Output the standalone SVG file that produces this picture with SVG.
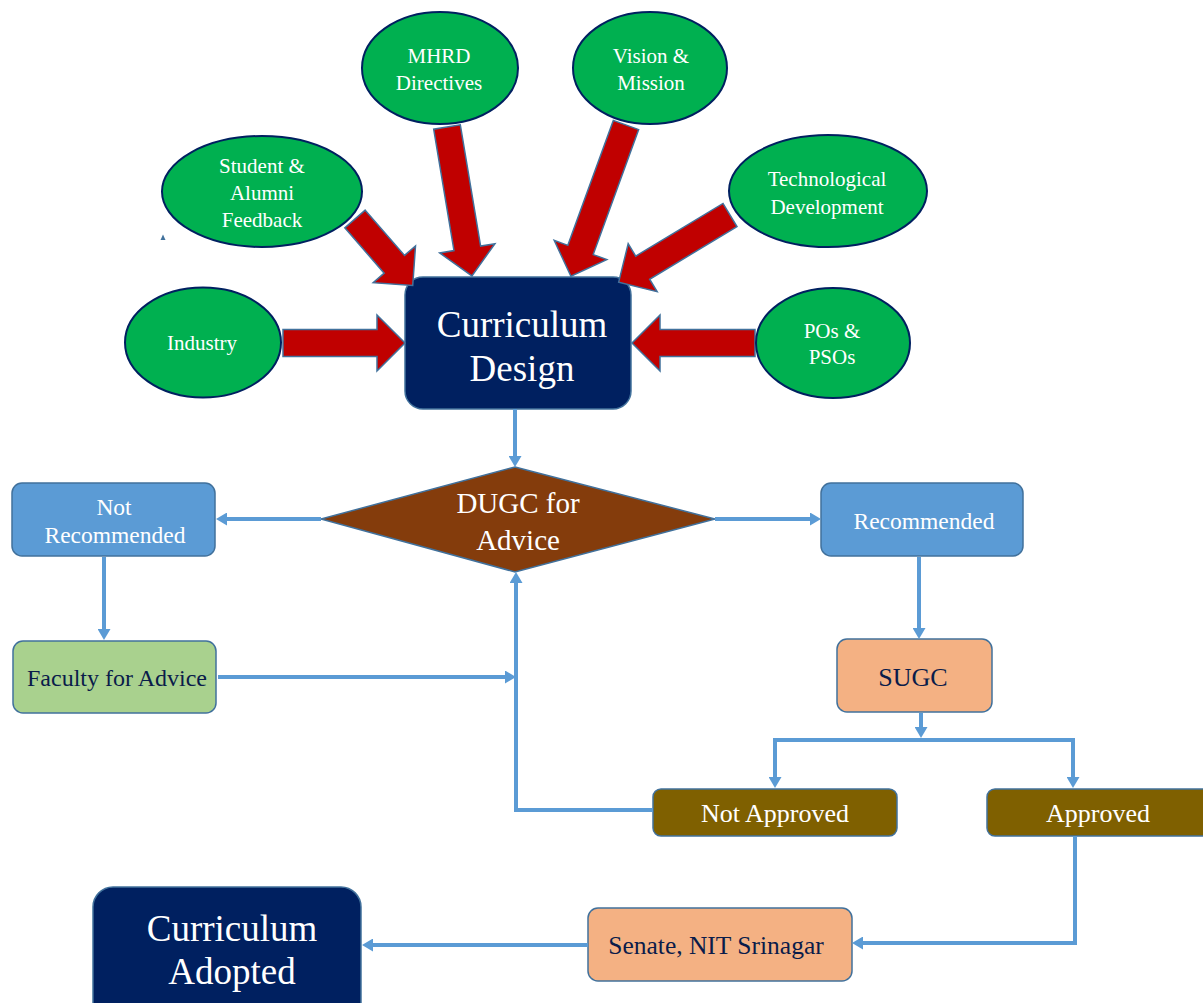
<svg xmlns="http://www.w3.org/2000/svg" width="1203" height="1003" viewBox="0 0 1203 1003">
  <style>
    .src { fill: #00B050; stroke: #002060; stroke-width: 2; }
    .src-t { fill: #FFFFFF; font-family: "Liberation Serif", "Times New Roman", serif; font-size: 21px; text-anchor: middle; }
    .feed { fill: #C00000; stroke: #41719C; stroke-width: 1.5; stroke-linejoin: miter; }
    .box { stroke: #41719C; stroke-width: 1.5; }
    .t { font-family: "Liberation Serif", "Times New Roman", serif; text-anchor: middle; }
    .w { fill: #FFFFFF; }
    .n { fill: #0A1C4A; }
    .link { fill: none; stroke: #5B9BD5; stroke-width: 4; stroke-linejoin: miter; }
  </style>
  <defs>
    <marker id="head" viewBox="0 0 11 13" refX="5" refY="6.5" markerWidth="11" markerHeight="13" markerUnits="userSpaceOnUse" orient="auto">
      <path d="M0,0 L11,6.5 L0,13 Z" fill="#5B9BD5"/>
    </marker>
  </defs>

  <rect width="1203" height="1003" fill="#FFFFFF"/>

  <!-- central design box -->
  <g id="curriculum-design">
    <rect class="box" x="405" y="277" width="226" height="132" rx="18" fill="#002060"/>
    <text class="t w" font-size="37" x="522" y="337">Curriculum</text>
    <text class="t w" font-size="37" x="522" y="381">Design</text>
  </g>

  <!-- block arrows feeding the design box -->
  <g id="inputs">
    <polygon class="feed" transform="translate(283,343)" points="0,-13.5 94,-13.5 94,-28 122,0 94,28 94,13.5 0,13.5"/>
    <polygon class="feed" transform="translate(755,343) rotate(180)" points="0,-13.5 95,-13.5 95,-28 123,0 95,28 95,13.5 0,13.5"/>
    <polygon class="feed" transform="translate(447,127) rotate(80.5)" points="0,-13.5 123,-13.5 123,-28 151,0 123,28 123,13.5 0,13.5"/>
    <polygon class="feed" transform="translate(626,125) rotate(110)" points="0,-13.5 133,-13.5 133,-28 161,0 133,28 133,13.5 0,13.5"/>
    <polygon class="feed" transform="translate(355,219) rotate(49)" points="0,-13.5 60,-13.5 60,-28 88,0 60,28 60,13.5 0,13.5"/>
    <polygon class="feed" transform="translate(730,215) rotate(148.9)" points="0,-13.5 102,-13.5 102,-28 130,0 102,28 102,13.5 0,13.5"/>
  </g>

  <!-- input sources -->
  <g id="mhrd">
    <ellipse class="src" cx="440" cy="68" rx="78" ry="56"/>
    <text class="src-t" x="439" y="63">MHRD</text>
    <text class="src-t" x="439" y="90">Directives</text>
  </g>
  <g id="vision">
    <ellipse class="src" cx="650" cy="68" rx="77" ry="56"/>
    <text class="src-t" x="651" y="63">Vision &amp;</text>
    <text class="src-t" x="651" y="90">Mission</text>
  </g>
  <g id="feedback">
    <ellipse class="src" cx="262" cy="191.5" rx="100" ry="55.5"/>
    <text class="src-t" x="262" y="173">Student &amp;</text>
    <text class="src-t" x="262" y="200">Alumni</text>
    <text class="src-t" x="262" y="227">Feedback</text>
  </g>
  <g id="technology">
    <ellipse class="src" cx="828" cy="191" rx="99" ry="56"/>
    <text class="src-t" x="827" y="186">Technological</text>
    <text class="src-t" x="827" y="214">Development</text>
  </g>
  <g id="industry">
    <ellipse class="src" cx="203" cy="342.5" rx="78" ry="55"/>
    <text class="src-t" x="202" y="350">Industry</text>
  </g>
  <g id="pos">
    <ellipse class="src" cx="833" cy="343" rx="77" ry="55"/>
    <text class="src-t" x="832" y="338">POs &amp;</text>
    <text class="src-t" x="832" y="364">PSOs</text>
  </g>
  <polygon points="160.5,240 163,234.5 165.5,240" fill="#41719C"/>

  <!-- review flow -->
  <g id="dugc">
    <polygon class="box" points="515,467 715,519 515,572 321,519" fill="#843C0C"/>
    <text class="t w" font-size="29" x="518" y="513">DUGC for</text>
    <text class="t w" font-size="29" x="518" y="550">Advice</text>
  </g>
  <g id="not-recommended">
    <rect class="box" x="12" y="483" width="203" height="73" rx="10" fill="#5B9BD5"/>
    <text class="t w" font-size="23.5" x="114" y="515">Not</text>
    <text class="t w" font-size="23.5" x="115" y="543">Recommended</text>
  </g>
  <g id="faculty">
    <rect class="box" x="13" y="641" width="203" height="72" rx="10" fill="#A9D18E"/>
    <text class="t n" font-size="24" x="117" y="686">Faculty for Advice</text>
  </g>
  <g id="recommended">
    <rect class="box" x="821" y="483" width="202" height="73" rx="10" fill="#5B9BD5"/>
    <text class="t w" font-size="23.5" x="924" y="529">Recommended</text>
  </g>
  <g id="sugc">
    <rect class="box" x="837" y="639" width="155" height="73" rx="10" fill="#F4B183"/>
    <text class="t n" font-size="26" x="913" y="686">SUGC</text>
  </g>
  <g id="not-approved">
    <rect class="box" x="653" y="789" width="244" height="47" rx="8" fill="#7F6000"/>
    <text class="t w" font-size="26" x="775" y="822">Not Approved</text>
  </g>
  <g id="approved">
    <rect class="box" x="987" y="789" width="240" height="47" rx="8" fill="#7F6000"/>
    <text class="t w" font-size="26" x="1098" y="822">Approved</text>
  </g>
  <g id="senate">
    <rect class="box" x="588" y="908" width="264" height="73" rx="10" fill="#F4B183"/>
    <text class="t n" font-size="25.5" x="716" y="954">Senate, NIT Srinagar</text>
  </g>
  <g id="curriculum-adopted">
    <rect class="box" x="93" y="887" width="268" height="140" rx="20" fill="#002060"/>
    <text class="t w" font-size="37" x="232" y="941">Curriculum</text>
    <text class="t w" font-size="37" x="232" y="984">Adopted</text>
  </g>

  <!-- connectors -->
  <g id="connectors">
    <path class="link" d="M515,409 V461" marker-end="url(#head)"/>
    <path class="link" d="M321,519 H222" marker-end="url(#head)"/>
    <path class="link" d="M715,519 H815" marker-end="url(#head)"/>
    <path class="link" d="M104,557 V634" marker-end="url(#head)"/>
    <path class="link" d="M218,677 H510" marker-end="url(#head)"/>
    <path class="link" d="M653,810 H516 V578" marker-end="url(#head)"/>
    <path class="link" d="M919,557 V633" stroke-width="5" marker-end="url(#head)"/>
    <path class="link" d="M921,713 V732" marker-end="url(#head)"/>
    <path class="link" d="M921,740 H775 V782" marker-end="url(#head)"/>
    <path class="link" d="M921,740 H1073 V782" marker-end="url(#head)"/>
    <path class="link" d="M1075,836 V943 H858" marker-end="url(#head)"/>
    <path class="link" d="M588,945 H368" marker-end="url(#head)"/>
  </g>
</svg>
